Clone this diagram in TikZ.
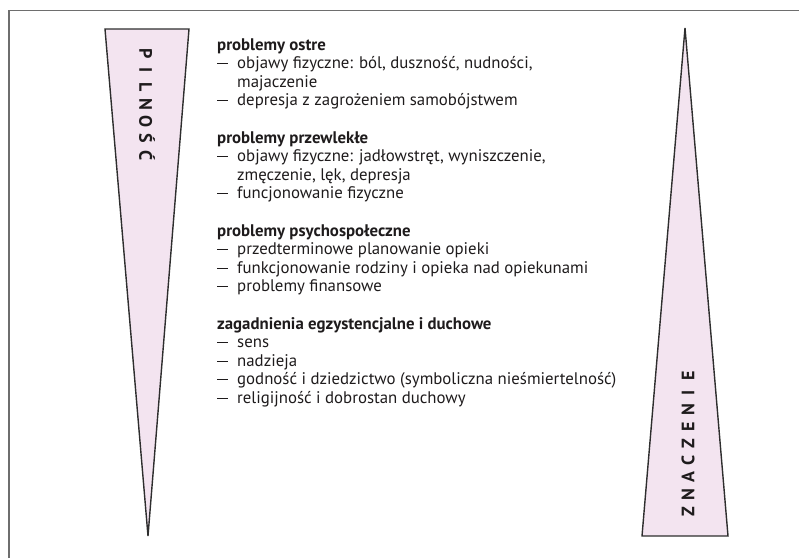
\documentclass[tikz,border=0pt]{standalone}
\usepackage{fontspec}
\setmainfont{PT Sans}
\definecolor{wedgefill}{HTML}{F3E4F0}
\definecolor{wedgeline}{HTML}{2E2E2E}
\definecolor{framegray}{HTML}{6E6E6E}
\definecolor{txt}{HTML}{1E1B1C}
\newcommand\lsp[1]{\makebox[17pt]{#1}}
\newcommand\dsh{\makebox[20pt][l]{\raisebox{4.6pt}{\rule{11pt}{1.1pt}}}}
\newcommand\ind{\hspace*{20pt}}
\begin{document}
\begin{tikzpicture}[x=1pt,y=-1pt]
\tikzset{
  head/.style={anchor=base west, inner sep=0pt, text=txt, font=\fontsize{16.8}{18}\selectfont\bfseries},
  item/.style={anchor=base west, inner sep=0pt, text=txt, font=\fontsize{16.8}{18}\selectfont},
  wedge/.style={fill=wedgefill, draw=wedgeline, line width=1.4pt, line join=miter},
  frameline/.style={draw=framegray, line width=1.3pt},
  vlabel/.style={inner sep=0pt, text=txt, font=\fontsize{18}{20}\selectfont\bfseries}
}
\useasboundingbox (0,0) rectangle (799,558);
\draw[frameline] (9,558) -- (9,10.5) -- (799,10.5);
% wedges
\draw[wedge] (105,29) -- (189,29) -- (148,536) -- cycle;
\draw[wedge] (685,28) -- (728,536) -- (642,536) -- cycle;
\node[vlabel, rotate=-90] (pil) at (147,104.5) {\lsp{P}\lsp{I}\lsp{L}\lsp{N}\lsp{O}\lsp{Ś}\lsp{Ć}};
\node[vlabel, rotate=90] (zna) at (688,443.5) {\lsp{Z}\lsp{N}\lsp{A}\lsp{C}\lsp{Z}\lsp{E}\lsp{N}\lsp{I}\lsp{E}};
% text
\node[head] (h1) at (217,{50+18.6*0}) {problemy ostre};
\node[item] (a1) at (217,{50+18.6*1}) {\dsh objawy fizyczne: ból, duszność, nudności,};
\node[item] (a2) at (217,{50+18.6*2}) {\ind majaczenie};
\node[item] (a3) at (217,{50+18.6*3}) {\dsh depresja z zagrożeniem samobójstwem};
\node[head] (h2) at (217,{50+18.6*5}) {problemy przewlekłe};
\node[item] (b1) at (217,{50+18.6*6}) {\dsh objawy fizyczne: jadłowstręt, wyniszczenie,};
\node[item] (b2) at (217,{50+18.6*7}) {\ind zmęczenie, lęk, depresja};
\node[item] (b3) at (217,{50+18.6*8}) {\dsh funcjonowanie fizyczne};
\node[head] (h3) at (217,{50+18.6*10}) {problemy psychospołeczne};
\node[item] (c1) at (217,{50+18.6*11}) {\dsh przedterminowe planowanie opieki};
\node[item] (c2) at (217,{50+18.6*12}) {\dsh funkcjonowanie rodziny i opieka nad opiekunami};
\node[item] (c3) at (217,{50+18.6*13}) {\dsh problemy finansowe};
\node[head] (h4) at (217,{50+18.6*15}) {zagadnienia egzystencjalne i duchowe};
\node[item] (d1) at (217,{50+18.6*16}) {\dsh sens};
\node[item] (d2) at (217,{50+18.6*17}) {\dsh nadzieja};
\node[item] (d3) at (217,{50+18.6*18}) {\dsh godność i dziedzictwo (symboliczna nieśmiertelność)};
\node[item] (d4) at (217,{50+18.6*19}) {\dsh religijność i dobrostan duchowy};
\end{tikzpicture}
\end{document}
